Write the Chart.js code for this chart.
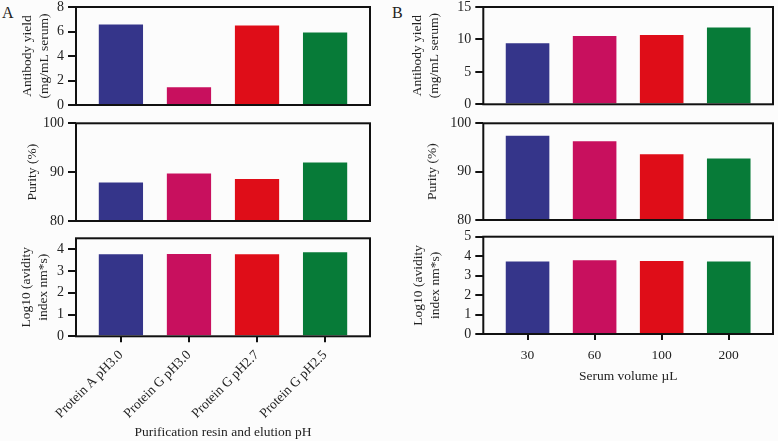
<!DOCTYPE html>
<html lang="en">
<head>
<meta charset="UTF-8">
<title>Antibody purification</title>
<script src="https://cdn.jsdelivr.net/npm/chart.js"></script>
<style>
  body { margin: 0; background: #fcfcfc; }
  #wrap { position: relative; width: 778px; height: 441px; overflow: hidden; font-family: "Liberation Serif", serif; color: #222; }
  canvas { position: absolute; }
  .tag { position: absolute; font-size: 16px; line-height: 16px; }
</style>
</head>
<body>
<div id="wrap">
  <div class="tag" style="left:2px;top:5px">A</div>
  <div class="tag" style="left:392px;top:5px">B</div>
  <canvas id="a1" width="380" height="114" style="left:0;top:0"></canvas>
  <canvas id="a2" width="380" height="114" style="left:0;top:114px"></canvas>
  <canvas id="a3" width="380" height="213" style="left:0;top:228px"></canvas>
  <canvas id="b1" width="388" height="114" style="left:390px;top:0"></canvas>
  <canvas id="b2" width="388" height="114" style="left:390px;top:114px"></canvas>
  <canvas id="b3" width="388" height="213" style="left:390px;top:228px"></canvas>
</div>
<script>
const resinLabels = ['Protein A pH3.0', 'Protein G pH3.0', 'Protein G pH2.7', 'Protein G pH2.5'];
const serumLabels = ['30', '60', '100', '200'];
const barColors = ['#35358a', '#c8105e', '#df0d18', '#077b38'];

// panel A: purification resin / elution pH
const yieldA = [6.57, 1.44, 6.48, 5.91];
const purityA = [87.9, 89.7, 88.6, 92.0];
const avidityA = [3.77, 3.78, 3.77, 3.86];
// panel B: serum volume
const yieldB = [9.42, 10.54, 10.7, 11.83];
const purityB = [97.4, 96.3, 93.6, 92.7];
const avidityB = [3.73, 3.79, 3.75, 3.73];

const yieldTicksA = [0, 2, 4, 6, 8];
const purityTicks = [80, 90, 100];
const avidityTicksA = [0, 1, 2, 3, 4];
const yieldTicksB = [0, 5, 10, 15];
const avidityTicksB = [0, 1, 2, 3, 4, 5];

const FONT = 'Liberation Serif';
const INK = '#111';

// black box round the plot area
const frame = {
    id: 'frame',
    afterDraw(chart) {
        const a = chart.chartArea, ctx = chart.ctx;
        ctx.save();
        ctx.lineWidth = 2;
        ctx.strokeStyle = INK;
        ctx.strokeRect(a.left, a.top, a.right - a.left, a.bottom - a.top);
        ctx.restore();
    }
};

function panel(id, o) {
    const labels = o.labels;
    new Chart(document.getElementById(id), {
        type: 'bar',
        data: {
            datasets: [{
                data: o.values.map((v, i) => ({ x: i, y: v })),
                backgroundColor: barColors,
                barPercentage: 0.65,
                categoryPercentage: 1
            }]
        },
        options: {
            responsive: false,
            animation: false,
            layout: { padding: { top: o.padTop, right: o.padRight, left: 0, bottom: 0 } },
            plugins: { legend: { display: false }, tooltip: { enabled: false } },
            scales: {
                x: {
                    type: 'linear',
                    offset: false,
                    min: -0.66,
                    max: 3.66,
                    afterBuildTicks: s => { s.ticks = o.values.map((v, i) => ({ value: i })); },
                    afterFit: s => { s.height = o.xHeight; s.paddingLeft = 0; s.paddingRight = 0; },
                    grid: { display: !!labels, drawOnChartArea: false, offset: false, tickLength: 6, lineWidth: 2, color: INK },
                    border: { display: false },
                    ticks: {
                        display: !!labels,
                        autoSkip: false,
                        minRotation: o.rot || 0,
                        maxRotation: o.rot || 0,
                        padding: o.tickPad || 0,
                        color: '#222',
                        font: { family: FONT, size: 13.5 },
                        callback: v => labels ? labels[Math.round(v)] : ''
                    },
                    title: {
                        display: !!o.xTitle,
                        text: o.xTitle || '',
                        color: '#222',
                        font: { family: FONT, size: 13.5 },
                        padding: { top: 0, bottom: o.xTitlePad || 0 }
                    }
                },
                y: {
                    min: o.ticks[0],
                    max: o.max,
                    afterBuildTicks: s => { s.ticks = o.ticks.map(v => ({ value: v })); },
                    afterFit: s => { s.width = o.yWidth; s.paddingTop = 0; s.paddingBottom = 0; },
                    grid: { drawOnChartArea: false, tickLength: 8, lineWidth: 2, color: INK },
                    border: { display: false },
                    ticks: { autoSkip: false, padding: 4, color: '#222', font: { family: FONT, size: 14 } },
                    title: {
                        display: true,
                        text: o.yTitle,
                        color: '#222',
                        font: { family: FONT, size: 13.5, lineHeight: 1.25 },
                        padding: { top: o.yTitlePad, bottom: 0 }
                    }
                }
            }
        },
        plugins: [frame]
    });
}

const yieldTitle = ['Antibody yield', '(mg/mL serum)'];
const avidityTitle = ['Log10 (avidity', 'index nm*s)'];

panel('a1', { values: yieldA, ticks: yieldTicksA, max: 8, yTitle: yieldTitle, yTitlePad: 19.5,
    yWidth: 76, padRight: 10, padTop: 7, xHeight: 9 });
panel('a2', { values: purityA, ticks: purityTicks, max: 100, yTitle: 'Purity (%)', yTitlePad: 24.5,
    yWidth: 76, padRight: 10, padTop: 9.3, xHeight: 7 });
panel('a3', { values: avidityA, ticks: avidityTicksA, max: 4.5, yTitle: avidityTitle, yTitlePad: 18.5,
    yWidth: 76, padRight: 10, padTop: 10.3, xHeight: 104.7,
    labels: resinLabels, rot: 45, tickPad: 5, xTitle: 'Purification resin and elution pH', xTitlePad: 0 });

panel('b1', { values: yieldB, ticks: yieldTicksB, max: 15, yTitle: yieldTitle, yTitlePad: 19.5,
    yWidth: 93.3, padRight: 5, padTop: 7, xHeight: 9.7 });
panel('b2', { values: purityB, ticks: purityTicks, max: 100, yTitle: 'Purity (%)', yTitlePad: 34.5,
    yWidth: 93.3, padRight: 5, padTop: 9.3, xHeight: 8 });
panel('b3', { values: avidityB, ticks: avidityTicksB, max: 5, yTitle: avidityTitle, yTitlePad: 20.5,
    yWidth: 93.3, padRight: 5, padTop: 8.7, xHeight: 107,
    labels: serumLabels, tickPad: 7, xTitle: 'Serum volume µL', xTitlePad: 56.5 });
</script>
</body>
</html>
